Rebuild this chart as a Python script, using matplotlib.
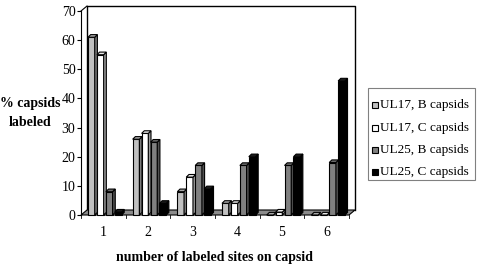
import matplotlib
matplotlib.use("Agg")
import matplotlib.pyplot as plt
from matplotlib.patches import Polygon, Rectangle
import numpy as np

categories = ["1", "2", "3", "4", "5", "6"]
series_names = ["UL17, B capsids", "UL17, C capsids", "UL25, B capsids", "UL25, C capsids"]
ul17_b = [61, 26, 8, 4, 0, 0]
ul17_c = [55, 28, 13, 4, 1, 0]
ul25_b = [8, 25, 17, 17, 17, 18]
ul25_c = [1, 4, 9, 20, 20, 46]
yticks = [0, 10, 20, 30, 40, 50, 60, 70]

series = [ul17_b, ul17_c, ul25_b, ul25_c]
face_colors = ["#c0c0c0", "#ffffff", "#808080", "#000000"]
side_colors = ["#7a7a7a", "#9a9a9a", "#505050", "#000000"]
top_colors = ["#a8a8a8", "#e8e8e8", "#6a6a6a", "#1a1a1a"]

plt.rcParams['font.family'] = ['Liberation Serif', 'DejaVu Serif']

W, H = 482, 266
fig = plt.figure(figsize=(W / 100, H / 100), dpi=100)
x0, x1 = 81, 349
y0, y1 = 215, 11
ax = fig.add_axes([x0 / W, 1 - y0 / H, (x1 - x0) / W, (y0 - y1) / H])
ax.set_xlim(0.5, 6.5)
ax.set_ylim(0, 70)
ax.patch.set_visible(False)
for s in ["top", "right", "bottom"]:
    ax.spines[s].set_visible(False)
ax.spines["left"].set_linewidth(0.8)

ppx = (x1 - x0) / 6.0
ppy = (y0 - y1) / 70.0
DX = 6 / ppx
DY = 5 / ppy

lw = 0.8
floor = Polygon([(0.5, 0), (6.5, 0), (6.5 + DX, DY), (0.5 + DX, DY)], closed=True,
                facecolor="#8c8c8c", edgecolor="black", lw=lw, clip_on=False, zorder=1)
ax.add_patch(floor)
ax.plot([0.5 + DX, 0.5 + DX, 6.5 + DX, 6.5 + DX], [DY, 70 + DY, 70 + DY, DY],
        color="black", lw=1.0, clip_on=False, zorder=0.5)
ax.plot([0.5, 0.5 + DX], [70, 70 + DY], color="black", lw=lw, clip_on=False, zorder=0.5)

bw = 0.15
bdx = 0.06
bdy = 0.9
step = 0.2
first = -0.343
for g in range(len(categories)):
    cx = g + 1
    for k, vals in enumerate(series):
        v = vals[g]
        left = cx + first + k * step
        right = left + bw
        base = 0
        zo = 3 + g * 10 + k
        ax.add_patch(Polygon([(left, base), (right, base), (right, v), (left, v)], closed=True,
                             facecolor=face_colors[k], edgecolor="black", lw=lw,
                             clip_on=False, zorder=zo))
        ax.add_patch(Polygon([(right, base), (right + bdx, base + bdy), (right + bdx, v + bdy),
                              (right, v)], closed=True, facecolor=side_colors[k],
                             edgecolor="black", lw=lw, clip_on=False, zorder=zo))
        ax.add_patch(Polygon([(left, v), (right, v), (right + bdx, v + bdy), (left + bdx, v + bdy)],
                             closed=True, facecolor=top_colors[k], edgecolor="black", lw=lw,
                             clip_on=False, zorder=zo))

ax.set_yticks(yticks)
ax.set_yticklabels([str(t) for t in yticks], fontsize=10)
ax.tick_params(axis="y", length=3, width=0.8, pad=1)
ax.set_xticks(np.arange(1, 7))
ax.set_xticklabels(categories, fontsize=10)
ax.tick_params(axis="x", length=0, pad=8)
for b in np.arange(0.5, 7.0, 1.0):
    ax.plot([b, b], [0, -1.2], color="black", lw=0.6, clip_on=False, zorder=2)

fig.text(30 / W, 1 - 113 / H, "% capsids\nlabeled", ha="center", va="center",
         fontsize=10, fontweight="bold", linespacing=1.6)
fig.text(215 / W, 1 - 257 / H, "number of labeled sites on capsid", ha="center", va="center",
         fontsize=10, fontweight="bold")

lx0, ly0, lx1, ly1 = 368, 88, 475, 180
fig.patches.append(Rectangle((lx0 / W, 1 - ly1 / H), (lx1 - lx0) / W, (ly1 - ly0) / H,
                             transform=fig.transFigure, facecolor="white",
                             edgecolor="#808080", lw=0.8))
row_y = [105, 127.5, 150, 172]
sq = 6
for k, name in enumerate(series_names):
    yc = row_y[k]
    fig.patches.append(Rectangle((372 / W, 1 - (yc + sq / 2) / H), sq / W, sq / H,
                                 transform=fig.transFigure, facecolor=face_colors[k],
                                 edgecolor="black", lw=0.8))
    fig.text(380 / W, 1 - yc / H, name, ha="left", va="center", fontsize=9.5)

fig.savefig("out.png", dpi=100)
